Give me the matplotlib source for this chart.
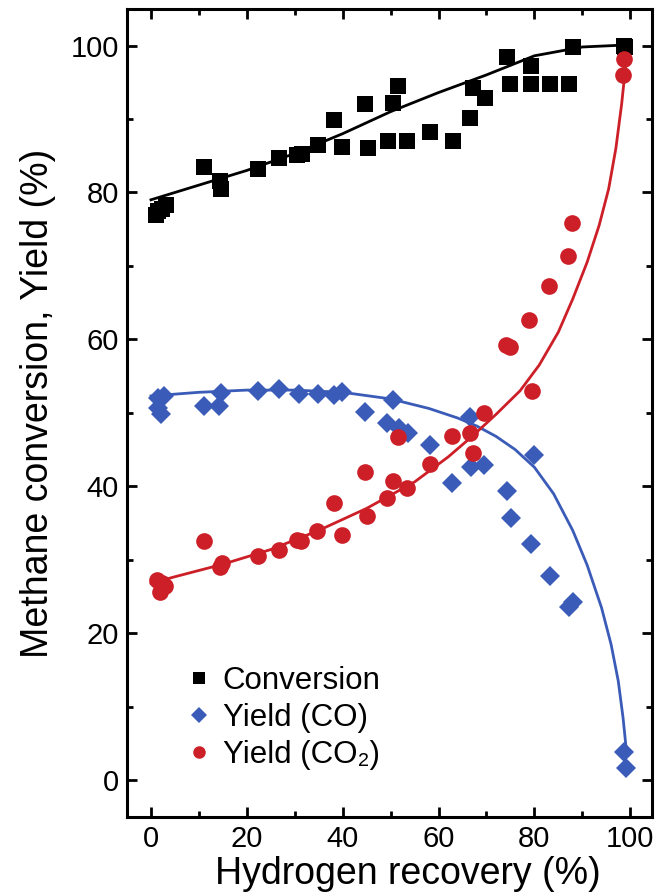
import matplotlib
matplotlib.use("Agg")
import matplotlib.pyplot as plt
from matplotlib.ticker import MultipleLocator

plt.rcParams['font.family'] = ['Liberation Sans', 'DejaVu Sans']

# ---- data ----
conv_x = [1.0, 1.5, 2.2, 3.2, 11.0, 14.4, 14.6, 22.3, 26.7, 30.5, 31.6, 34.8, 38.2, 39.9,
          44.7, 45.2, 49.4, 50.5, 51.6, 53.5, 58.3, 63.0, 66.6, 67.2, 69.6, 74.2, 75.0,
          79.2, 79.3, 83.2, 87.2, 88.0, 98.6, 99.0]
conv_y = [77.0, 77.5, 77.8, 78.3, 83.4, 81.5, 80.5, 83.2, 84.7, 85.1, 85.3, 86.4, 89.9, 86.2,
          92.0, 86.0, 87.0, 92.2, 94.5, 87.0, 88.2, 87.0, 90.1, 94.2, 92.9, 98.5, 94.7,
          97.2, 94.8, 94.8, 94.8, 99.8, 100.0, 99.8]

co_x = [1.5, 2.8, 1.5, 2.0, 11.0, 14.2, 14.6, 22.4, 26.7, 30.8, 34.9, 38.2, 39.9, 44.7,
        49.3, 50.4, 51.7, 53.7, 58.3, 62.9, 66.6, 66.7, 69.5, 74.3, 75.1, 79.2, 80.0,
        83.3, 87.2, 88.0, 98.7, 99.2]
co_y = [52.0, 52.3, 50.6, 49.8, 50.9, 51.0, 52.7, 53.0, 53.3, 52.6, 52.6, 52.5, 52.8, 50.1,
        48.6, 51.8, 47.9, 47.2, 45.6, 40.5, 49.4, 42.7, 42.9, 39.3, 35.7, 32.2, 44.3,
        27.8, 23.6, 24.2, 3.8, 1.6]

co2_x = [1.2, 1.8, 2.2, 3.0, 11.0, 14.3, 14.8, 22.4, 26.7, 30.5, 31.4, 34.7, 38.1, 39.9,
         44.7, 45.1, 49.3, 50.4, 51.6, 53.5, 58.3, 62.9, 66.5, 67.1, 69.5, 74.0, 74.9,
         78.9, 79.6, 83.1, 87.0, 87.9, 98.5, 98.8]
co2_y = [27.3, 25.6, 26.8, 26.5, 32.5, 29.0, 29.5, 30.5, 31.4, 32.7, 32.5, 33.9, 37.7, 33.4,
         41.9, 36.0, 38.4, 40.7, 46.7, 39.8, 43.0, 46.8, 47.3, 44.6, 50.0, 59.2, 58.9,
         62.7, 53.0, 67.3, 71.3, 75.9, 96.0, 98.2]

# fitted trend lines (knots)
conv_fit_x = [0, 10, 20, 30, 40, 50, 60, 70, 80, 90, 100]
conv_fit_y = [79.0, 81.0, 83.0, 85.3, 88.0, 91.0, 93.6, 96.0, 98.6, 99.8, 100.1]

co_fit_x = [0, 10, 20, 30, 40, 50, 58, 64, 68, 72, 76, 80, 84, 88, 91, 94, 96, 97.5, 98.5, 99.2]
co_fit_y = [52.3, 52.8, 53.1, 53.1, 52.8, 51.9, 50.6, 49.3, 48.2, 46.8, 45.0, 42.6, 39.0,
            34.0, 29.3, 23.5, 18.5, 13.5, 8.5, 4.0]

co2_fit_x = [0, 5, 15, 25, 35, 45, 55, 62, 67, 72, 77, 81, 85, 88, 91, 93.5, 95.5, 97, 98.2, 99.0]
co2_fit_y = [26.8, 27.7, 29.4, 31.4, 34.0, 37.0, 40.6, 44.0, 46.8, 49.8, 53.0, 56.5, 61.0,
             65.5, 70.5, 75.5, 80.5, 86.0, 92.0, 97.0]

labels = ["Conversion", "Yield (CO)", "Yield (CO\u2082)"]
x_ticks = [0, 20, 40, 60, 80, 100]
y_ticks = [0, 20, 40, 60, 80, 100]

BLACK = "#000000"
BLUE = "#3a5bb8"
RED = "#cc1f27"

fig = plt.figure(figsize=(6.66, 8.96), dpi=100)
ax = fig.add_axes([0.1907, 0.0882, 0.788, 0.902])

ax.plot(conv_fit_x, conv_fit_y, color=BLACK, lw=2.0, zorder=2)
ax.plot(co_fit_x, co_fit_y, color=BLUE, lw=2.0, zorder=2)
ax.plot(co2_fit_x, co2_fit_y, color=RED, lw=2.0, zorder=2)

ax.plot(conv_x, conv_y, 's', color=BLACK, ms=12, mew=0, zorder=3, label=labels[0])
ax.plot(co_x, co_y, 'D', color=BLUE, ms=10.5, mew=0, zorder=4, label=labels[1])
ax.plot(co2_x, co2_y, 'o', color=RED, ms=12, mew=0, zorder=5, label=labels[2])

ax.set_xlim(-5, 104.5)
ax.set_ylim(-5, 105)
ax.set_xticks(x_ticks)
ax.set_yticks(y_ticks)
ax.xaxis.set_minor_locator(MultipleLocator(10))
ax.yaxis.set_minor_locator(MultipleLocator(10))
ax.tick_params(which='both', direction='in', top=True, right=True, width=2.0,
               labelsize=21, pad=6)
ax.tick_params(which='major', length=7)
ax.tick_params(which='minor', length=4)
for s in ax.spines.values():
    s.set_linewidth(2.2)

ax.set_xlabel("Hydrogen recovery (%)", fontsize=27, labelpad=2, x=0.535)
ax.set_ylabel("Methane conversion, Yield (%)", fontsize=27, labelpad=10, y=0.512)

leg = ax.legend(loc='upper left', bbox_to_anchor=(0.114, 0.187), frameon=False,
                fontsize=22.5, handlelength=0.8, handletextpad=0.35, labelspacing=0.22,
                borderpad=0, borderaxespad=0, markerscale=0.75)

fig.savefig("out.png", dpi=100)
